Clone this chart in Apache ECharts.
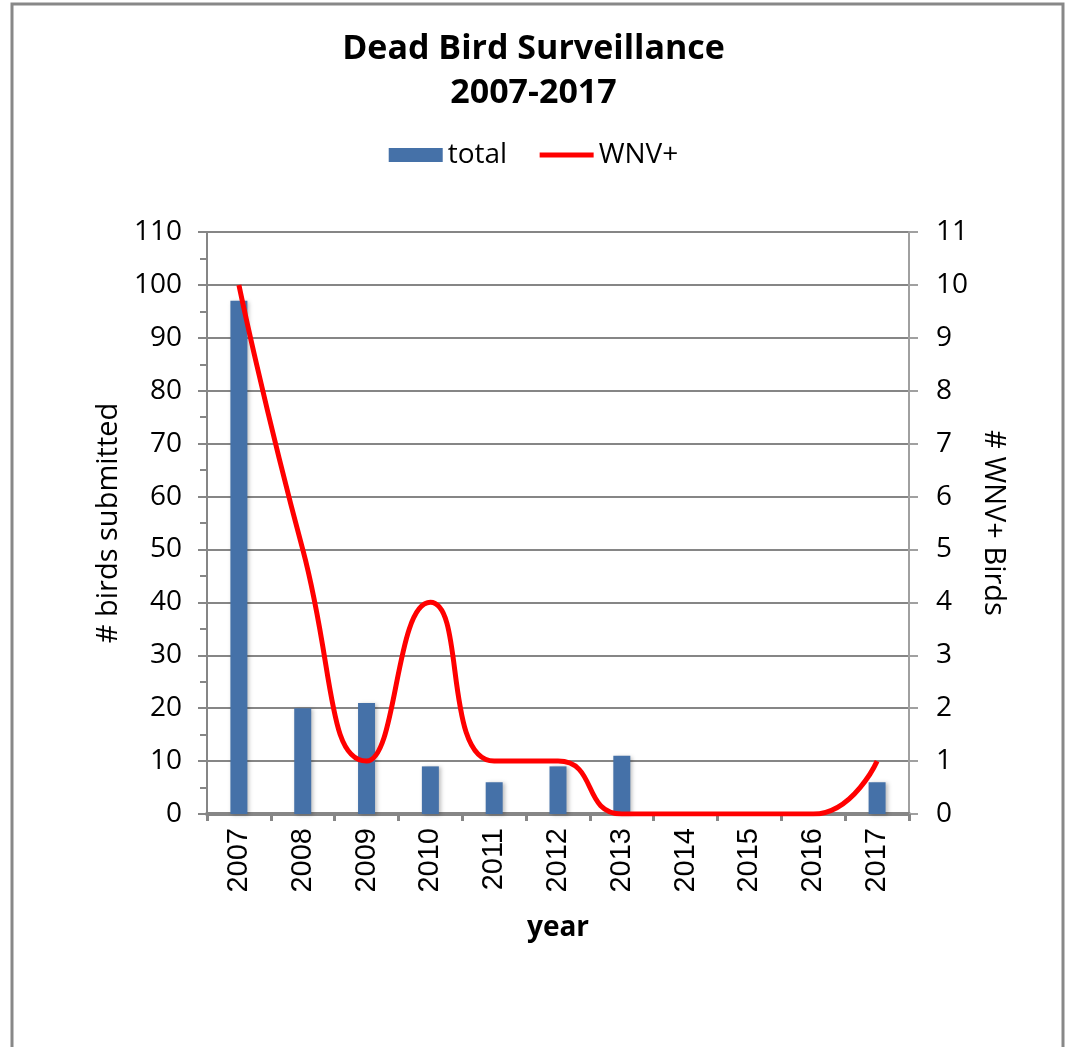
<!DOCTYPE html>
<html>
<head>
<meta charset="utf-8">
<script src="https://cdn.jsdelivr.net/npm/echarts@6/dist/echarts.min.js"></script>
<style>
  html, body { margin: 0; padding: 0; background: #fff; }
  #chart { width: 1067px; height: 1047px; }
</style>
</head>
<body>
<div id="chart"></div>
<script>
const years = ["2007", "2008", "2009", "2010", "2011", "2012", "2013", "2014", "2015", "2016", "2017"];
const totalBirds = [97, 20, 21, 9, 6, 9, 11, 0, 0, 0, 6];
const wnvBirds = [10, 5, 1, 4, 1, 1, 0, 0, 0, 0, 1];

const chart = echarts.init(document.getElementById("chart"));
const axisFont = "'Open Sans', 'Noto Sans', sans-serif";

const option = {
  animation: false,
  graphic: [
    {
      type: "rect",
      shape: { x: 12, y: 4, width: 1051, height: 1060 },
      style: { fill: "none", stroke: "#888", lineWidth: 3 },
    },
  ],
  title: {
    text: "Dead Bird Surveillance\n2007-2017",
    left: "center",
    top: 22,
    textStyle: {
      fontFamily: axisFont,
      fontWeight: "bold",
      fontSize: 34,
      lineHeight: 44,
      color: "#000",
    },
  },
  legend: {
    top: 136,
    left: "center",
    itemWidth: 54,
    itemHeight: 14,
    itemGap: 30,
    textStyle: { fontFamily: axisFont, fontSize: 28, color: "#000" },
    data: [
      { name: "total", icon: "rect" },
      { name: "WNV+", itemStyle: { opacity: 0 }, lineStyle: { width: 5, color: "#FF0000" } },
    ],
  },
  grid: { left: 207, right: 158, top: 232, bottom: 233 },
  xAxis: {
    type: "category",
    data: years,
    name: "year",
    nameLocation: "middle",
    nameGap: 100,
    nameTextStyle: { fontFamily: axisFont, fontWeight: "bold", fontSize: 28, color: "#000" },
    axisLine: { lineStyle: { color: "#868686", width: 4 } },
    axisTick: { show: true, length: 7, lineStyle: { color: "#868686", width: 3 } },
    axisLabel: {
      rotate: 90,
      margin: 14,
      fontFamily: "'Liberation Sans', Arial, sans-serif",
      fontSize: 29,
      color: "#000",
    },
  },
  yAxis: [
    {
      type: "value",
      min: 0,
      max: 110,
      interval: 10,
      name: "# birds submitted",
      nameLocation: "middle",
      nameGap: 84,
      nameTextStyle: { fontFamily: axisFont, fontSize: 29, color: "#000" },
      axisLine: { show: true, lineStyle: { color: "#868686", width: 2 } },
      axisTick: { show: true, length: 9, lineStyle: { color: "#868686", width: 2 } },
      minorTick: { show: true, splitNumber: 2, length: 7, lineStyle: { color: "#868686", width: 2 } },
      axisLabel: { margin: 25, fontFamily: axisFont, fontSize: 28, color: "#000" },
      splitLine: { lineStyle: { color: "#868686", width: 2 } },
    },
    {
      type: "value",
      min: 0,
      max: 11,
      interval: 1,
      name: "# WNV+ Birds",
      nameLocation: "middle",
      nameRotate: -90,
      nameGap: 70,
      nameTextStyle: { fontFamily: axisFont, fontSize: 29, color: "#000" },
      axisLine: { show: true, lineStyle: { color: "#a0a0a0", width: 2 } },
      axisTick: { show: true, length: 9, lineStyle: { color: "#a0a0a0", width: 2 } },
      axisLabel: { margin: 27, fontFamily: axisFont, fontSize: 28, color: "#000" },
      splitLine: { show: false },
    },
  ],
  series: [
    {
      name: "total",
      type: "bar",
      data: totalBirds,
      barWidth: 17,
      itemStyle: {
        color: "#4571A8",
        shadowColor: "rgba(0,0,0,0.25)",
        shadowBlur: 4,
        shadowOffsetX: 2,
        shadowOffsetY: 1,
      },
    },
    {
      name: "WNV+",
      type: "line",
      yAxisIndex: 1,
      data: wnvBirds,
      smooth: 0.55,
      symbol: "none",
      lineStyle: { color: "#FF0000", width: 5 },
      itemStyle: { color: "#FF0000" },
    },
  ],
};

chart.setOption(option);
</script>
</body>
</html>
